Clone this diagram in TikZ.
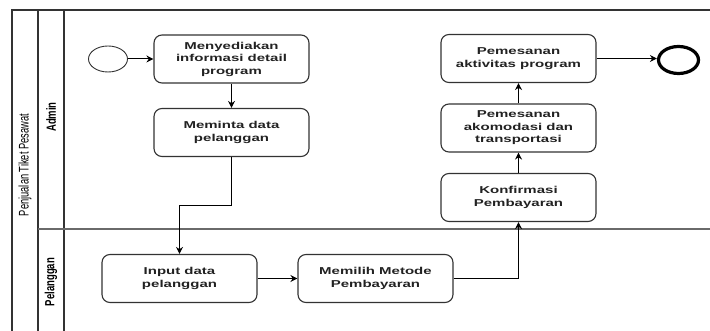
\documentclass[tikz,border=0pt]{standalone}
\usepackage{fontspec}
\setmainfont{Liberation Sans}
\newfontfamily\boxfont[FakeStretch=1.5]{Liberation Sans}
\usetikzlibrary{arrows.meta,shapes.geometric}
\definecolor{linegray}{HTML}{333333}
\definecolor{divgray}{HTML}{6A6A6A}
\definecolor{txtgray}{HTML}{222222}
\begin{document}
\begin{tikzpicture}[x=1pt,y=-1pt,
  task/.style={draw=linegray, rounded corners=8pt, line width=1.1pt,
    minimum width=155pt, minimum height=48pt, align=center, inner sep=2pt,
    text=txtgray, font=\boxfont\bfseries\fontsize{10}{12.5}\selectfont},
  startev/.style={draw=linegray, ellipse, line width=0.9pt,
    minimum width=39pt, minimum height=26pt, inner sep=0pt},
  endev/.style={draw=black, ellipse, line width=3.2pt,
    minimum width=40pt, minimum height=27pt, inner sep=0pt},
  flow/.style={draw=black, line width=1pt, -{Stealth[length=7pt,width=7pt]}},
  poolline/.style={draw=linegray, line width=1.1pt},
  lanelabel/.style={rotate=90, text=black, inner sep=0pt}
]
\useasboundingbox (0,0) rectangle (710,331);
\fill[white] (0,0) rectangle (710,331);

% pool and lanes
\draw[poolline] (12,331) -- (12,10) -- (710,10);
\draw[poolline] (38,10) -- (38,331);
\draw[poolline] (64,10) -- (64,331);
\draw[draw=divgray, line width=1.1pt] (38,229) -- (710,229);

\node[lanelabel] (pool) at (25,165) {\fontsize{9.3}{10}\selectfont\scalebox{1}[1.5]{Penjualan Tiket Pesawat}};
\node[lanelabel] (admin) at (51,117) {\fontsize{9.5}{10}\selectfont\bfseries\scalebox{1}[1.4]{Admin}};
\node[lanelabel] (pelanggan) at (51,282) {\fontsize{9.5}{10}\selectfont\bfseries\scalebox{1}[1.4]{Pelanggan}};

% events
\node[startev] (start) at (108,59) {};
\node[endev] (end) at (678.5,60) {};

% tasks
\node[task] (b1) at (231.5,59) {Menyediakan\\informasi detail\\program};
\node[task] (b2) at (231.5,132.5) {Meminta data\\pelanggan};
\node[task] (inp) at (179.5,278.5) {Input data\\pelanggan};
\node[task] (mem) at (375.5,278.5) {Memilih Metode\\Pembayaran};
\node[task] (konf) at (518.5,197.5) {Konfirmasi\\Pembayaran};
\node[task] (ako) at (518.5,128) {Pemesanan\\akomodasi dan\\transportasi};
\node[task] (akt) at (518.5,58.5) {Pemesanan\\aktivitas program};

% flows
\draw[flow] (start) -- (b1);
\draw[flow] (b1) -- (b2);
\draw[flow] (b2.south) -- ++(0,48) -| (inp.north);
\draw[flow] (inp) -- (mem);
\draw[flow] (mem.east) -| (konf.south);
\draw[flow] (konf) -- (ako);
\draw[flow] (ako) -- (akt);
\draw[flow] (akt.east) -- (end.west |- akt.east);
\end{tikzpicture}
\end{document}
